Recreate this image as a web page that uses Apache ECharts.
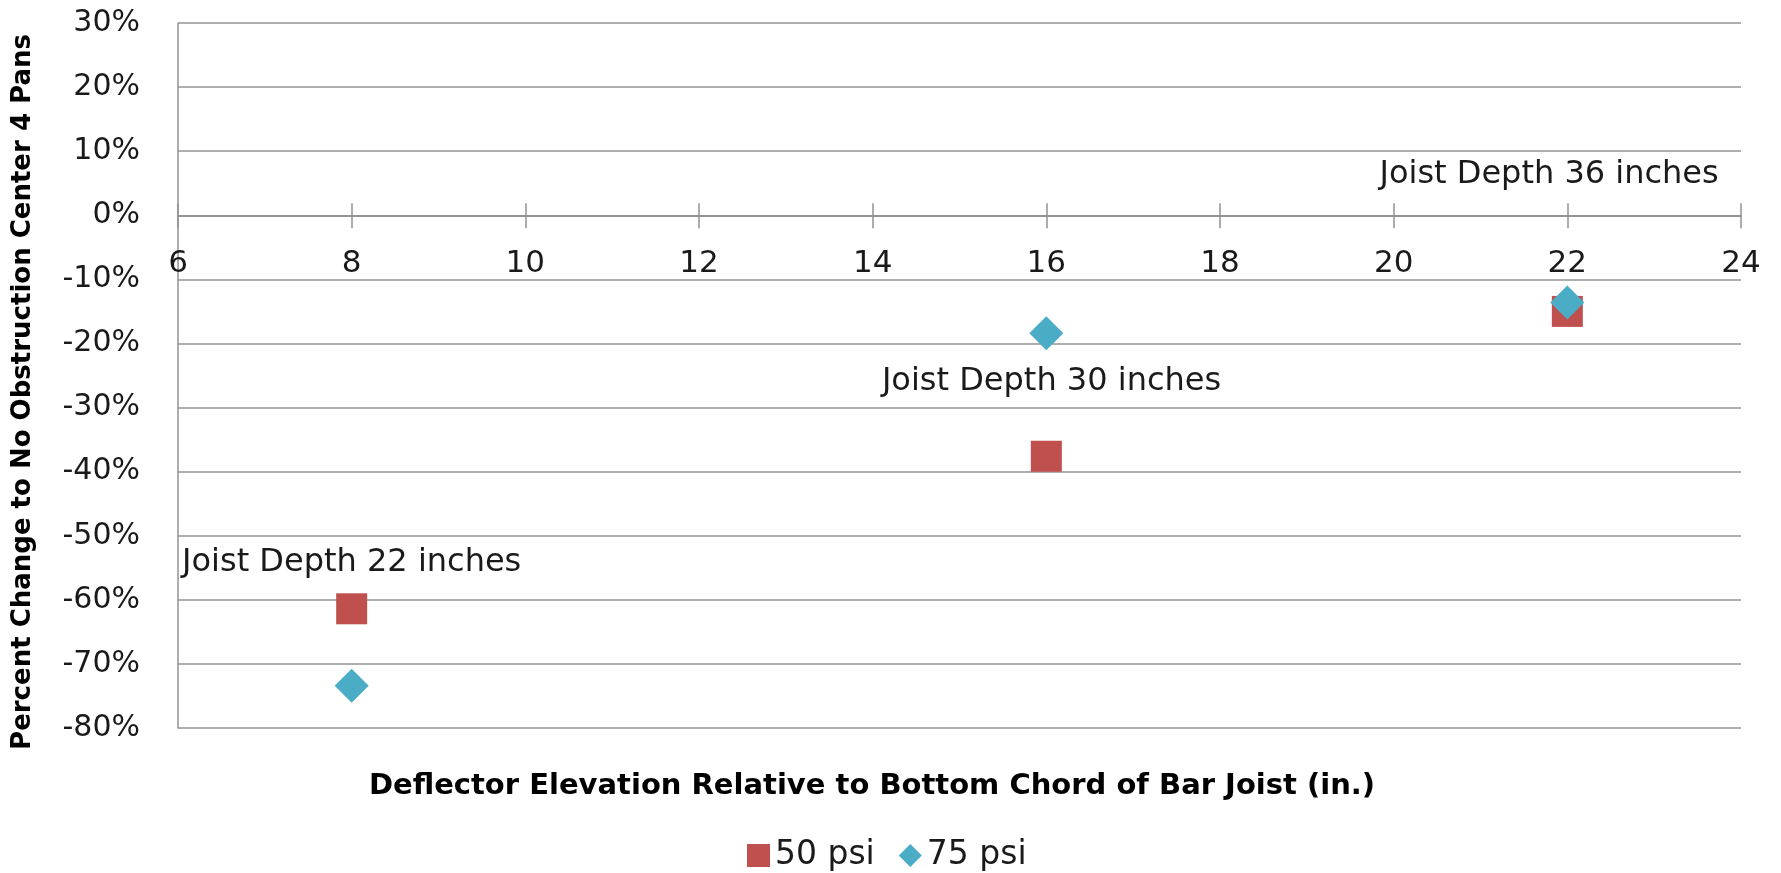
<!DOCTYPE html>
<html>
<head>
<meta charset="utf-8">
<title>Deflector Elevation vs Percent Change</title>
<script src="https://cdn.jsdelivr.net/npm/echarts@6/dist/echarts.min.js"></script>
<style>
  html, body { margin: 0; padding: 0; background: #fff; }
  #chart { width: 1781px; height: 873px; }
</style>
</head>
<body>
<div id="chart"></div>
<script>
// x = deflector elevation (in.), y = percent change
const elevation = [8, 16, 22]
const psi50 = [-61.4, -37.6, -15.0]
const psi75 = [-73.4, -18.4, -13.6]
const seriesNames = ['50 psi', '75 psi']

// joist depth notes, placed in data units
const noteText = ['Joist Depth 22 inches', 'Joist Depth 30 inches', 'Joist Depth 36 inches']
const noteX = [8.0, 16.06, 21.79]
const noteY = [-54.2, -26.0, 6.3]

const xTicks = { min: 6, max: 24, interval: 2 }
const yTicks = { min: -80, max: 30, interval: 10 }

const FONT = 'DejaVu Sans'
const GRID_GRAY = '#939393'
const TEXT = '#1a1a1a'

// plot box in px
const grid = { left: 178, right: 40, top: 23, bottom: 145 }
const plotH = 873 - grid.top - grid.bottom

// the x axis sits on y = 0, so shift both x axes there
const zeroFromBottom = plotH * (0 - yTicks.min) / (yTicks.max - yTicks.min)
const zeroFromTop = plotH - zeroFromBottom

const chart = echarts.init(document.getElementById('chart'))

chart.setOption({
  animation: false,
  textStyle: { fontFamily: FONT },
  grid: { ...grid, containLabel: false },
  legend: {
    data: [
      { name: seriesNames[0], icon: 'rect' },
      { name: seriesNames[1], icon: 'diamond' },
    ],
    left: 742,
    top: 834,
    itemWidth: 23,
    itemHeight: 23,
    itemGap: 24,
    textStyle: { fontFamily: FONT, fontSize: 33, color: TEXT },
  },
  xAxis: [
    {
      type: 'value',
      position: 'bottom',
      offset: -zeroFromBottom,
      min: xTicks.min, max: xTicks.max, interval: xTicks.interval,
      axisLine: { onZero: false, lineStyle: { color: GRID_GRAY, width: 1.5 } },
      axisTick: { show: true, length: 13, lineStyle: { color: GRID_GRAY, width: 1.5 } },
      axisLabel: { margin: 33, fontSize: 31, color: TEXT, fontFamily: FONT },
      splitLine: { show: false },
    },
    {
      // second axis only to draw the upper half of the crossing ticks
      type: 'value',
      position: 'top',
      offset: -zeroFromTop,
      min: xTicks.min, max: xTicks.max, interval: xTicks.interval,
      axisLine: { onZero: false, lineStyle: { color: GRID_GRAY, width: 1.5 } },
      axisTick: { show: true, length: 12, lineStyle: { color: GRID_GRAY, width: 1.5 } },
      axisLabel: { show: false },
      splitLine: { show: false },
    },
  ],
  yAxis: {
    type: 'value',
    min: yTicks.min, max: yTicks.max, interval: yTicks.interval,
    axisLine: { show: true, onZero: false, lineStyle: { color: GRID_GRAY, width: 1.5 } },
    axisTick: { show: false },
    axisLabel: {
      margin: 38, fontSize: 30, color: TEXT, fontFamily: FONT,
      formatter: v => v + '%',
    },
    splitLine: { show: true, lineStyle: { color: GRID_GRAY, width: 1.5 } },
  },
  graphic: [
    {
      type: 'text',
      x: 872,
      y: 786,
      style: {
        text: 'Deflector Elevation Relative to Bottom Chord of Bar Joist (in.)',
        font: 'bold 29px "DejaVu Sans"',
        fill: '#000',
        align: 'center',
        verticalAlign: 'middle',
      },
    },
    {
      type: 'text',
      x: 23,
      y: 392,
      rotation: Math.PI / 2,
      style: {
        text: 'Percent Change to No Obstruction Center 4 Pans',
        font: 'bold 26px "DejaVu Sans"',
        fill: '#000',
        align: 'center',
        verticalAlign: 'middle',
      },
    },
  ],
  series: [
    {
      name: seriesNames[0],
      type: 'scatter',
      symbol: 'rect',
      symbolSize: 31,
      itemStyle: { color: '#C0504D', opacity: 1 },
      data: elevation.map((x, i) => [x, psi50[i]]),
    },
    {
      name: seriesNames[1],
      type: 'scatter',
      symbol: 'diamond',
      symbolSize: 34,
      itemStyle: { color: '#4BACC6', opacity: 1 },
      data: elevation.map((x, i) => [x, psi75[i]]),
    },
    {
      name: 'notes',
      type: 'scatter',
      symbolSize: 0,
      silent: true,
      itemStyle: { opacity: 1 },
      label: {
        show: true,
        position: 'inside',
        formatter: p => noteText[p.dataIndex],
        fontSize: 32,
        color: TEXT,
        fontFamily: FONT,
      },
      data: noteX.map((x, i) => [x, noteY[i]]),
    },
  ],
})
</script>
</body>
</html>
